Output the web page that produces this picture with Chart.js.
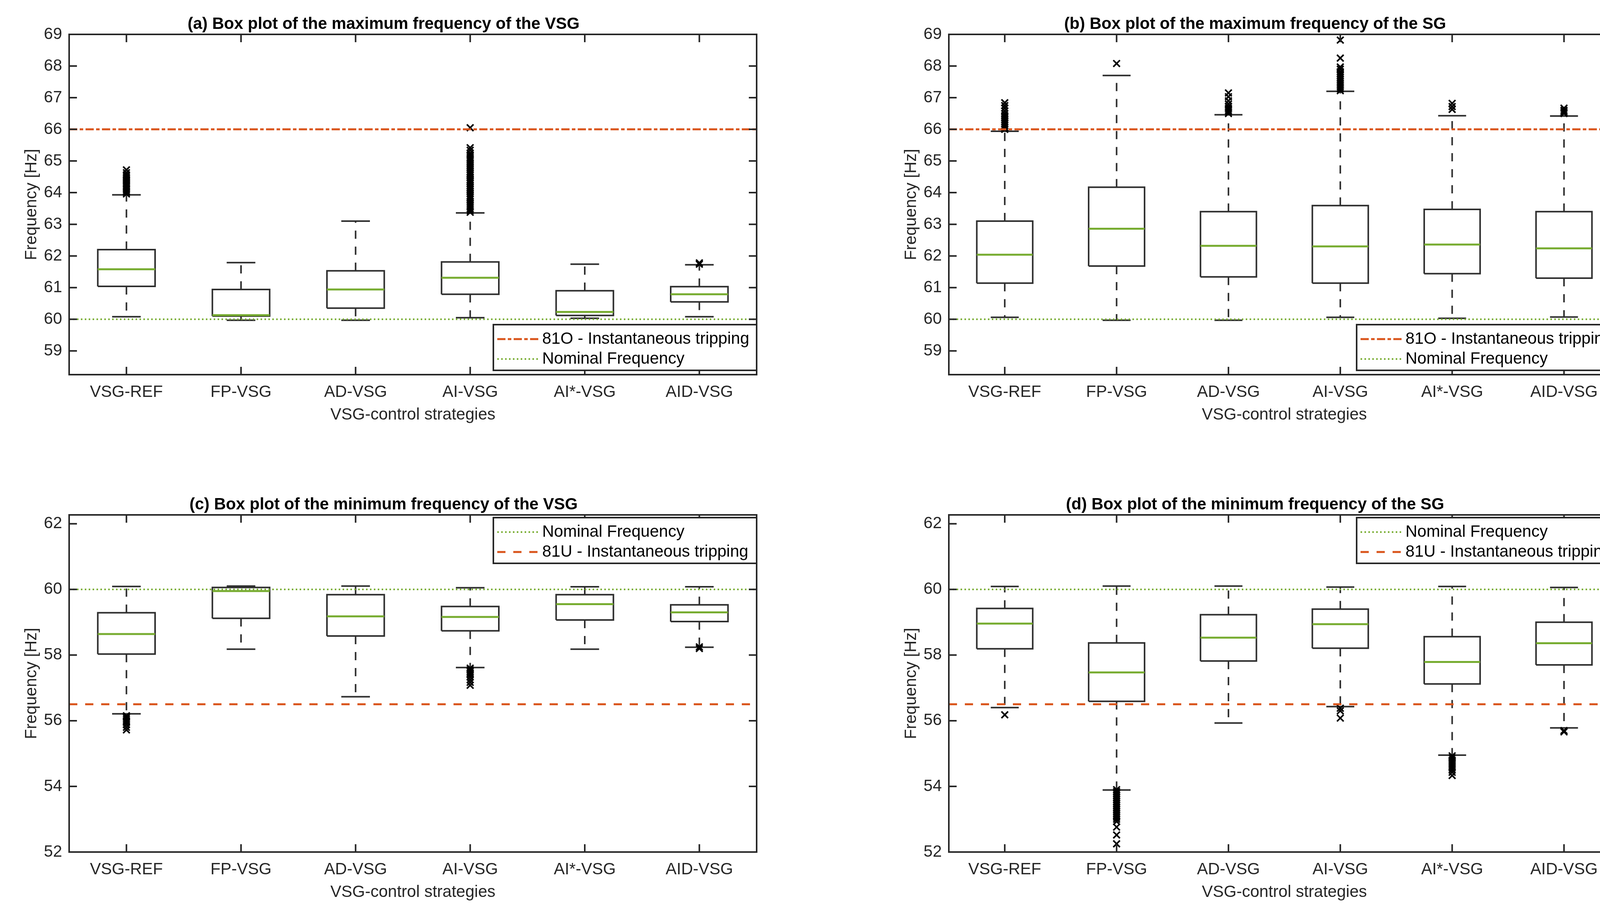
<!DOCTYPE html>
<html>
<head>
<meta charset="utf-8">
<script src="https://cdn.jsdelivr.net/npm/chart.js@4.4.1/dist/chart.umd.min.js"></script>
<style>
  html, body { margin: 0; padding: 0; background: #ffffff; }
  #wrap { position: relative; width: 4208px; height: 2355px; background: #ffffff; }
  canvas { position: absolute; }
</style>
</head>
<body>
<div id="wrap">
  <canvas id="ca" width="2104" height="1177" style="left:0px;top:0px;width:2104px;height:1177px"></canvas>
  <canvas id="cb" width="2104" height="1177" style="left:2104px;top:0px;width:2104px;height:1177px"></canvas>
  <canvas id="cc" width="2104" height="1178" style="left:0px;top:1177px;width:2104px;height:1178px"></canvas>
  <canvas id="cd" width="2104" height="1178" style="left:2104px;top:1177px;width:2104px;height:1178px"></canvas>
</div>
<script>
// ---------------- DATA ----------------
const categories = ['VSG-REF', 'FP-VSG', 'AD-VSG', 'AI-VSG', 'AI*-VSG', 'AID-VSG'];
const yTicksMax = [59, 60, 61, 62, 63, 64, 65, 66, 67, 68, 69];
const yTicksMin = [52, 54, 56, 58, 60, 62];

const xTitle = 'VSG-control strategies';
const yTitle = 'Frequency [Hz]';

const overTripLabel = '81O - Instantaneous tripping';
const overTripValue = 66;
const nominalLabel = 'Nominal Frequency';
const nominalValue = 60;
const underTripLabel = '81U - Instantaneous tripping';
const underTripValue = 56.5;

// (a) maximum frequency of the VSG
const aLower  = [60.08, 59.97, 59.97, 60.05, 60.03, 60.08];
const aQ1     = [61.04, 60.10, 60.35, 60.79, 60.12, 60.55];
const aMedian = [61.58, 60.13, 60.94, 61.31, 60.23, 60.79];
const aQ3     = [62.20, 60.94, 61.53, 61.81, 60.90, 61.03];
const aUpper  = [63.93, 61.79, 63.10, 63.36, 61.74, 61.72];
const aOutVSGREF = [63.96, 64.00, 64.04, 64.09, 64.13, 64.18, 64.22, 64.27, 64.31, 64.36, 64.41, 64.45, 64.50, 64.56, 64.63, 64.72];
const aOutAI = [63.38, 63.43, 63.49, 63.55, 63.60, 63.66, 63.72, 63.79, 63.85, 63.90, 63.97, 64.03, 64.10, 64.16, 64.22, 64.29, 64.35, 64.41, 64.48, 64.55, 64.61, 64.67, 64.74, 64.80, 64.87, 64.93, 65.00, 65.06, 65.12, 65.19, 65.25, 65.34, 65.42, 66.05];
const aOutAID = [61.74, 61.78];
const aOutliers = [aOutVSGREF, [], [], aOutAI, [], aOutAID];

// (b) maximum frequency of the SG
const bLower  = [60.06, 59.97, 59.97, 60.06, 60.03, 60.07];
const bQ1     = [61.14, 61.68, 61.34, 61.14, 61.44, 61.30];
const bMedian = [62.04, 62.86, 62.32, 62.30, 62.36, 62.24];
const bQ3     = [63.10, 64.17, 63.40, 63.59, 63.47, 63.40];
const bUpper  = [65.94, 67.70, 66.46, 67.20, 66.43, 66.42];
const bOutVSGREF = [66.00, 66.06, 66.12, 66.18, 66.24, 66.30, 66.37, 66.43, 66.50, 66.58, 66.67, 66.75, 66.84];
const bOutFP = [68.08];
const bOutAD = [66.50, 66.55, 66.60, 66.66, 66.72, 66.80, 66.90, 67.03, 67.15];
const bOutAI = [67.22, 67.28, 67.34, 67.40, 67.46, 67.52, 67.58, 67.64, 67.70, 67.76, 67.82, 67.90, 67.97, 68.25, 68.82];
const bOutAIs = [66.63, 66.72, 66.82];
const bOutAID = [66.50, 66.55, 66.60, 66.67];
const bOutliers = [bOutVSGREF, bOutFP, bOutAD, bOutAI, bOutAIs, bOutAID];

// (c) minimum frequency of the VSG
const cLower  = [56.21, 58.18, 56.73, 57.62, 58.18, 58.24];
const cQ1     = [58.03, 59.12, 58.58, 58.74, 59.07, 59.02];
const cMedian = [58.64, 59.95, 59.18, 59.16, 59.55, 59.30];
const cQ3     = [59.29, 60.06, 59.84, 59.48, 59.84, 59.53];
const cUpper  = [60.09, 60.10, 60.10, 60.05, 60.08, 60.08];
const cOutVSGREF = [56.15, 56.10, 56.05, 56.00, 55.95, 55.88, 55.80, 55.72];
const cOutAI = [57.60, 57.55, 57.50, 57.45, 57.40, 57.33, 57.25, 57.17, 57.08];
const cOutAID = [58.25, 58.20];
const cOutliers = [cOutVSGREF, [], [], cOutAI, [], cOutAID];

// (d) minimum frequency of the SG
const dLower  = [56.40, 53.89, 55.93, 56.43, 54.95, 55.78];
const dQ1     = [58.19, 56.59, 57.82, 58.21, 57.12, 57.70];
const dMedian = [58.96, 57.47, 58.53, 58.94, 57.79, 58.36];
const dQ3     = [59.42, 58.37, 59.23, 59.40, 58.56, 59.00];
const dUpper  = [60.09, 60.10, 60.10, 60.07, 60.09, 60.06];
const dOutVSGREF = [56.18];
const dOutFP = [53.90, 53.84, 53.78, 53.72, 53.66, 53.60, 53.54, 53.48, 53.42, 53.36, 53.30, 53.24, 53.18, 53.12, 53.06, 53.00, 52.93, 52.76, 52.52, 52.25];
const dOutAI = [56.38, 56.30, 56.08];
const dOutAIs = [54.93, 54.87, 54.80, 54.74, 54.68, 54.62, 54.56, 54.50, 54.43, 54.33];
const dOutAID = [55.70, 55.66];
const dOutliers = [dOutVSGREF, dOutFP, [], dOutAI, dOutAIs, dOutAID];

// ---------------- STYLE ----------------
const FONT = "'Liberation Sans', Arial, Helvetica, sans-serif";
const INK = '#262626';
const BOXC = '#2e2e2e';
const ORANGE = '#D95319';
const GREEN = '#77AC30';
const FS = 42;

const refStyles = {
  over:    { label: overTripLabel,  value: overTripValue,  color: ORANGE, dash: [21, 6, 9, 6], width: 5 },
  nominal: { label: nominalLabel,   value: nominalValue,   color: GREEN,  dash: [4, 6],        width: 4 },
  under:   { label: underTripLabel, value: underTripValue, color: ORANGE, dash: [21, 20],      width: 5 }
};

function buildDatasets(lw, q1, med, q3, uw, outl, refKeys) {
  const boxPts = [], whiskPts = [], medPts = [], outPts = [];
  categories.forEach((c, i) => {
    const x = i + 1;
    boxPts.push({x: x - 0.25, y: q1[i]}, {x: x + 0.25, y: q1[i]}, {x: x + 0.25, y: q3[i]},
                {x: x - 0.25, y: q3[i]}, {x: x - 0.25, y: q1[i]}, {x: x, y: null});
    boxPts.push({x: x - 0.125, y: uw[i]}, {x: x + 0.125, y: uw[i]}, {x: x, y: null});
    boxPts.push({x: x - 0.125, y: lw[i]}, {x: x + 0.125, y: lw[i]}, {x: x, y: null});
    whiskPts.push({x: x, y: q3[i]}, {x: x, y: uw[i]}, {x: x, y: null},
                  {x: x, y: q1[i]}, {x: x, y: lw[i]}, {x: x, y: null});
    medPts.push({x: x - 0.25, y: med[i]}, {x: x + 0.25, y: med[i]}, {x: x, y: null});
    outl[i].forEach(v => outPts.push({x: x, y: v}));
  });
  const base = { pointRadius: 0, tension: 0, fill: false, spanGaps: false, borderCapStyle: 'butt', borderJoinStyle: 'miter' };
  const ds = [
    Object.assign({}, base, { label: 'whiskers', data: whiskPts, borderColor: BOXC, borderWidth: 4, borderDash: [21, 20], order: 5 }),
    Object.assign({}, base, { label: 'boxes', data: boxPts, borderColor: BOXC, borderWidth: 4, order: 4 }),
    Object.assign({}, base, { label: 'medians', data: medPts, borderColor: GREEN, borderWidth: 5, order: 3 }),
    { label: 'outliers', data: outPts, showLine: false, pointStyle: 'crossRot', pointRadius: 12, pointBorderWidth: 4,
      pointBorderColor: '#000000', pointBackgroundColor: '#000000', borderColor: '#000000', order: 2 }
  ];
  refKeys.forEach((k, j) => {
    const r = refStyles[k];
    ds.push(Object.assign({}, base, { label: r.label, data: [{x: 0.5, y: r.value}, {x: 6.5, y: r.value}],
      borderColor: r.color, borderWidth: r.width, borderDash: r.dash, order: 1 }));
  });
  return ds;
}

function framePlugin() {
  return {
    id: 'matlabFrame',
    afterDatasetsDraw(chart) {
      const {ctx, chartArea: a} = chart;
      const x = chart.scales.x, y = chart.scales.y;
      ctx.save();
      ctx.setLineDash([]);
      ctx.strokeStyle = INK;
      ctx.lineWidth = 4;
      ctx.beginPath();
      x.ticks.forEach(t => {
        const px = x.getPixelForValue(t.value);
        ctx.moveTo(px, a.bottom); ctx.lineTo(px, a.bottom - 20);
        ctx.moveTo(px, a.top); ctx.lineTo(px, a.top + 20);
      });
      y.ticks.forEach(t => {
        const py = y.getPixelForValue(t.value);
        ctx.moveTo(a.left, py); ctx.lineTo(a.left + 20, py);
        ctx.moveTo(a.right, py); ctx.lineTo(a.right - 20, py);
      });
      ctx.stroke();
      ctx.strokeRect(a.left, a.top, a.right - a.left, a.bottom - a.top);
      ctx.restore();
    }
  };
}

function legendPlugin(refKeys, anchor) {
  return {
    id: 'matlabLegend',
    afterDraw(chart) {
      const {ctx, chartArea: a} = chart;
      const w = 674, h = 117;
      const left = a.right - w;
      const top = anchor === 'bottom' ? a.bottom - 128 : a.top + 7;
      ctx.save();
      ctx.setLineDash([]);
      ctx.fillStyle = '#ffffff';
      ctx.fillRect(left, top, w, h);
      ctx.strokeStyle = INK;
      ctx.lineWidth = 4;
      ctx.strokeRect(left, top, w, h);
      refKeys.forEach((k, j) => {
        const r = refStyles[k];
        const cy = top + 37 + j * 51;
        ctx.beginPath();
        ctx.setLineDash(r.dash);
        ctx.strokeStyle = r.color;
        ctx.lineWidth = r.width;
        ctx.moveTo(left + 10, cy);
        ctx.lineTo(left + 115, cy);
        ctx.stroke();
        ctx.setLineDash([]);
        ctx.fillStyle = '#000000';
        ctx.font = FS + 'px ' + FONT;
        ctx.textAlign = 'left';
        ctx.textBaseline = 'middle';
        ctx.fillText(r.label, left + 125, cy);
      });
      ctx.restore();
    }
  };
}

const panels = [
  { id: 'ca', title: '(a) Box plot of the maximum frequency of the VSG',
    data: [aLower, aQ1, aMedian, aQ3, aUpper, aOutliers], yMin: 58.25, yMax: 69, yTicks: yTicksMax,
    refs: ['over', 'nominal'], anchor: 'bottom', pad: {left: 27, right: 167, top: 37.6, bottom: 44} },
  { id: 'cb', title: '(b) Box plot of the maximum frequency of the SG',
    data: [bLower, bQ1, bMedian, bQ3, bUpper, bOutliers], yMin: 58.25, yMax: 69, yTicks: yTicksMax,
    refs: ['over', 'nominal'], anchor: 'bottom', pad: {left: 175, right: 61, top: 37.6, bottom: 44} },
  { id: 'cc', title: '(c) Box plot of the minimum frequency of the VSG',
    data: [cLower, cQ1, cMedian, cQ3, cUpper, cOutliers], yMin: 52, yMax: 62.27, yTicks: yTicksMin,
    refs: ['nominal', 'under'], anchor: 'top', pad: {left: 27, right: 167, top: 90.6, bottom: 0} },
  { id: 'cd', title: '(d) Box plot of the minimum frequency of the SG',
    data: [dLower, dQ1, dMedian, dQ3, dUpper, dOutliers], yMin: 52, yMax: 62.27, yTicks: yTicksMin,
    refs: ['nominal', 'under'], anchor: 'top', pad: {left: 175, right: 61, top: 90.6, bottom: 0} }
];

Chart.defaults.font.family = FONT;
Chart.defaults.color = INK;

panels.forEach(p => {
  const [lw, q1, med, q3, uw, outl] = p.data;
  new Chart(document.getElementById(p.id), {
    type: 'line',
    data: { datasets: buildDatasets(lw, q1, med, q3, uw, outl, p.refs) },
    options: {
      responsive: false,
      devicePixelRatio: 1,
      animation: false,
      events: [],
      layout: { padding: p.pad },
      plugins: {
        legend: { display: false },
        tooltip: { enabled: false },
        title: { display: true, text: p.title, color: '#000000',
                 font: { family: FONT, size: FS, weight: 'bold', lineHeight: 1.2 }, padding: {top: 0, bottom: 0} }
      },
      scales: {
        x: {
          type: 'linear', min: 0.5, max: 6.5,
          afterBuildTicks: s => { s.ticks = categories.map((c, i) => ({ value: i + 1 })); },
          afterFit: s => { s.height = 174; },
          grid: { display: false, drawTicks: false },
          border: { display: false },
          ticks: { callback: v => categories[Math.round(v) - 1], font: { family: FONT, size: FS, lineHeight: 1.2 },
                   color: INK, padding: 20, autoSkip: false, maxRotation: 0, minRotation: 0 },
          title: { display: true, text: xTitle, color: INK, font: { family: FONT, size: FS, lineHeight: 1.2 },
                   padding: { top: 0, bottom: 45 } }
        },
        y: {
          type: 'linear', min: p.yMin, max: p.yMax,
          afterBuildTicks: s => { s.ticks = p.yTicks.map(v => ({ value: v })); },
          afterFit: s => { s.width = 150; },
          grid: { display: false, drawTicks: false },
          border: { display: false },
          ticks: { callback: v => String(v), font: { family: FONT, size: FS, lineHeight: 1.2 }, color: INK, padding: 18 },
          title: { display: true, text: yTitle, color: INK, font: { family: FONT, size: FS, lineHeight: 1.2 },
                   padding: { top: 29, bottom: 0 } }
        }
      }
    },
    plugins: [framePlugin(), legendPlugin(p.refs, p.anchor)]
  });
});
</script>
</body>
</html>
